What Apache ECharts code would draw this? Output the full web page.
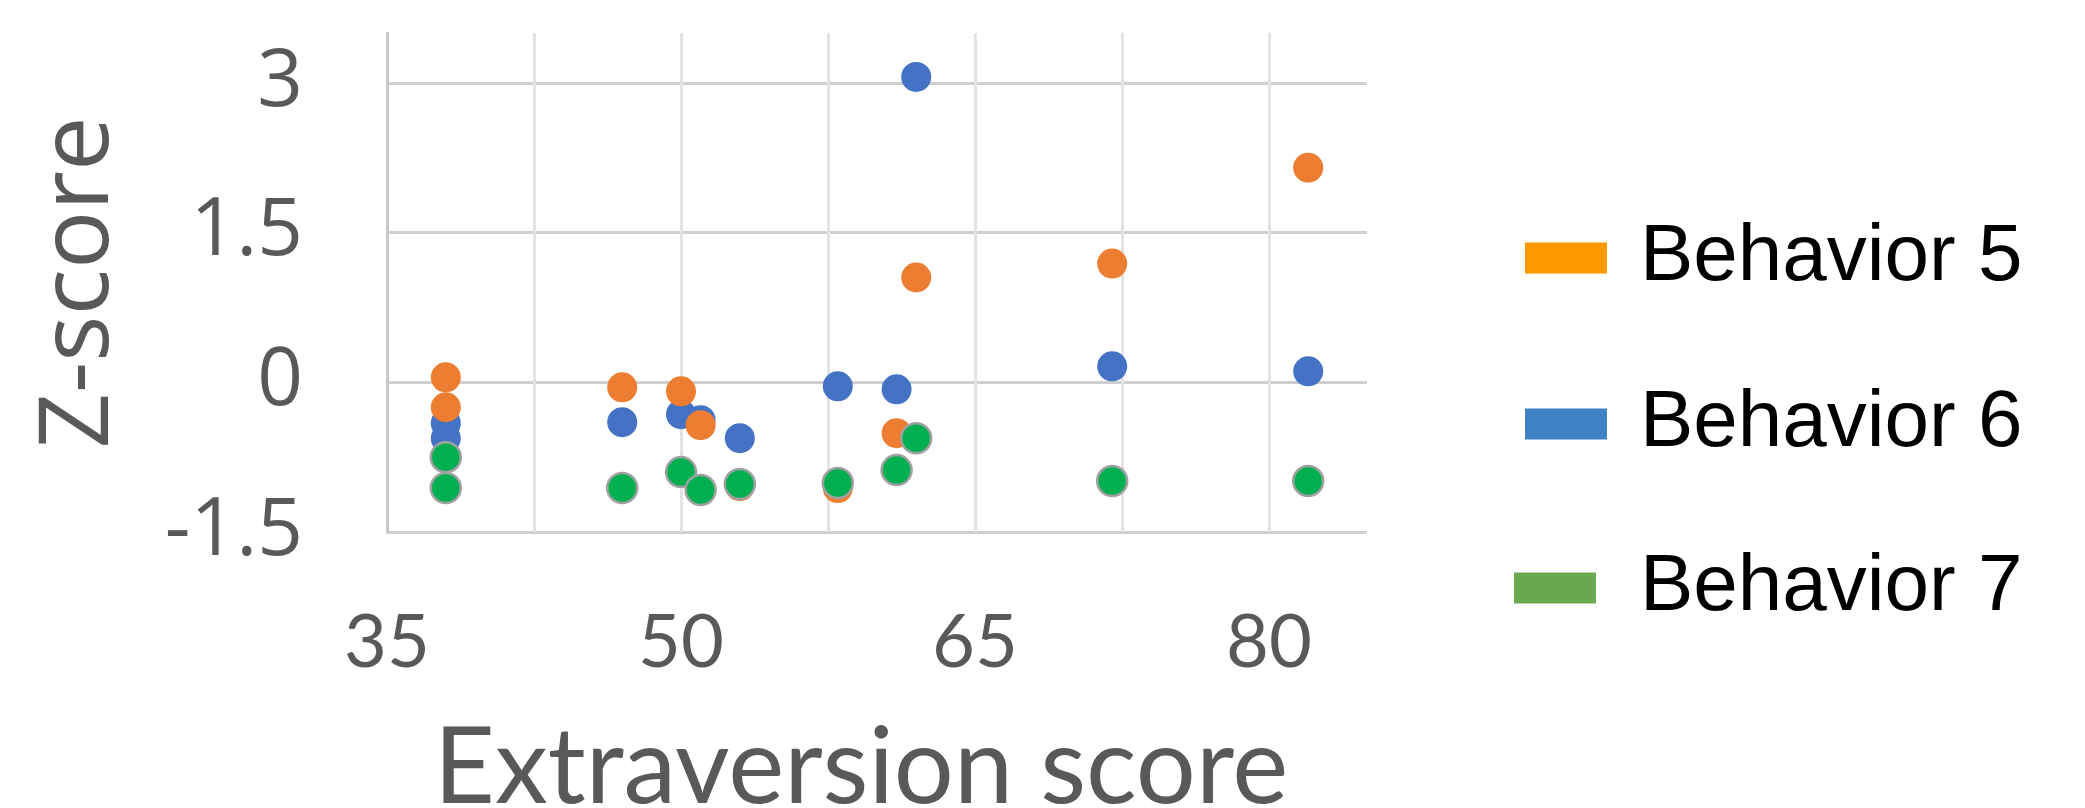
<!DOCTYPE html>
<html>
<head>
<meta charset="utf-8">
<script src="https://cdn.jsdelivr.net/npm/echarts@6/dist/echarts.min.js"></script>
<style>
  html, body { margin: 0; padding: 0; background: #ffffff; }
  #chart { width: 2085px; height: 808px; }
</style>
</head>
<body>
<div id="chart"></div>
<script>
// Extraversion score of each participant (x)
const extraversionScores = [38, 38, 47, 50, 51, 53, 58, 61, 62, 72, 82];
// Z-scores for each behaviour (y)
const behavior5 = [0.05, -0.25, -0.05, -0.09, -0.43, -1.04, -1.06, -0.51, 1.05, 1.19, 2.15];
const behavior6 = [-0.41, -0.56, -0.40, -0.32, -0.38, -0.56, -0.04, -0.07, 3.06, 0.16, 0.11];
const behavior7 = [-0.75, -1.06, -1.06, -0.90, -1.08, -1.02, -1.01, -0.88, -0.56, -0.99, -0.99];
const seriesNames = ['Behavior 5', 'Behavior 6', 'Behavior 7'];
const legendColors = ['#FF9900', '#3F83C6', '#6AA84F'];
const xTickLabels = [35, 50, 65, 80];
const yTickLabels = [-1.5, 0, 1.5, 3];

function pairs(ys) { return extraversionScores.map((x, i) => [x, ys[i]]); }

function legendFor(i, left, top, textPad) {
  return {
    orient: 'vertical', left: left, top: top, itemWidth: 82, itemHeight: 31,
    icon: 'rect', selectedMode: false,
    textStyle: { fontFamily: 'Liberation Sans', fontSize: 80, color: '#000000', lineHeight: 90, padding: [0, 0, 0, textPad] },
    data: [{ name: seriesNames[i], itemStyle: { color: legendColors[i], borderWidth: 0 } }]
  };
}

const chart = echarts.init(document.getElementById('chart'), null, { renderer: 'canvas' });
chart.setOption({
  backgroundColor: '#ffffff',
  animation: false,
  grid: { left: 387, right: 718, top: 33, bottom: 276, containLabel: false, outerBoundsMode: 'none' },
  xAxis: {
    type: 'value', min: 35, max: 85, interval: 7.5,
    name: 'Extraversion score', nameLocation: 'middle', nameGap: 184,
    nameTextStyle: { fontFamily: 'Lato', fontSize: 106, color: '#595959', padding: [0, 32, 0, 0] },
    axisLine: { show: false },
    axisTick: { show: false },
    axisLabel: {
      fontFamily: 'Lato', fontSize: 74, color: '#595959', margin: 74,
      showMaxLabel: false,
      formatter: v => (xTickLabels.indexOf(v) >= 0 ? String(v) : '')
    },
    splitLine: { show: true, showMaxLine: false, lineStyle: { color: '#e3e3e3', width: 3 } }
  },
  yAxis: {
    type: 'value', min: -1.5, max: 3.5, interval: 1.5,
    name: 'Z-score', nameLocation: 'middle', nameGap: 258, nameRotate: 90,
    nameTextStyle: { fontFamily: 'Open Sans', fontSize: 97, color: '#595959' },
    axisLine: { show: true, onZero: false, lineStyle: { color: '#c8c8c8', width: 3 } },
    axisTick: { show: false },
    axisLabel: {
      fontFamily: 'Open Sans', fontSize: 80, color: '#595959', margin: 84,
      showMaxLabel: false,
      formatter: v => (yTickLabels.indexOf(v) >= 0 ? String(v) : '')
    },
    splitLine: { show: true, showMaxLine: false, lineStyle: { color: '#cfcfcf', width: 3 } }
  },
  legend: [
    legendFor(0, 1520, 208, 28),
    legendFor(1, 1520, 374, 28),
    legendFor(2, 1509, 538, 39)
  ],
  series: [
    { name: seriesNames[0], type: 'scatter', z: 3, symbolSize: 30, data: pairs(behavior5),
      itemStyle: { color: '#ED7D31', opacity: 1 } },
    { name: seriesNames[1], type: 'scatter', z: 2, symbolSize: 30, data: pairs(behavior6),
      itemStyle: { color: '#4472C4', opacity: 1 } },
    { name: seriesNames[2], type: 'scatter', z: 4, symbolSize: 30, data: pairs(behavior7),
      itemStyle: { color: '#00B050', opacity: 1, borderColor: '#a0a0a0', borderWidth: 2.5 } }
  ]
});
</script>
</body>
</html>
